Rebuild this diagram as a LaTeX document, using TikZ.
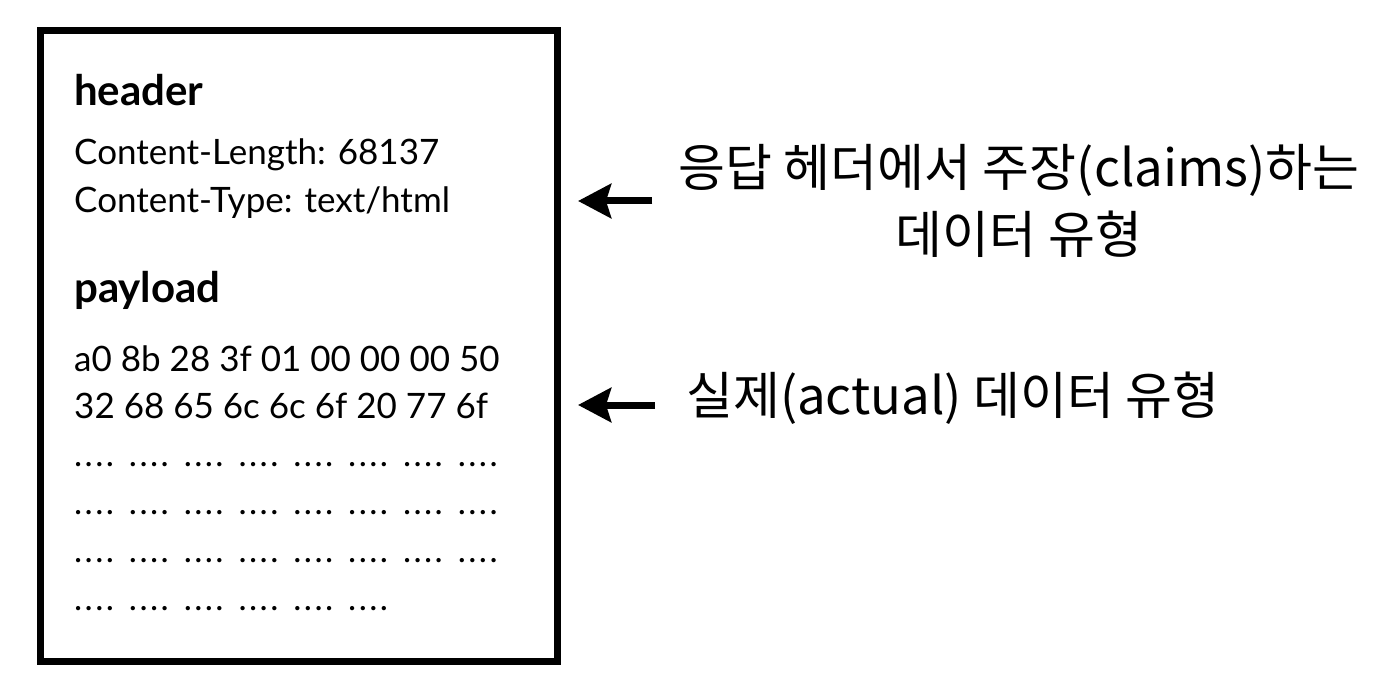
\documentclass[tikz,border=0pt]{standalone}
\usepackage{fontspec}
\setmainfont{Lato}
\newfontfamily\krfont{Noto Sans CJK KR}
\usetikzlibrary{arrows.meta}
\usetikzlibrary{positioning}
\tikzset{
    frame/.style={
           rectangle,
           draw=black, line width=7pt,
           minimum width=517pt,
           minimum height=631pt,
           inner sep=0pt,
           },
    section/.style={
           anchor=base west,
           inner sep=0pt,
           font=\fontsize{42}{48}\selectfont\bfseries,
           },
    field/.style={
           anchor=base west,
           inner sep=0pt,
           font=\fontsize{35}{40}\selectfont,
           },
    filler/.style={
           field,
           font=\fontsize{34.5}{40}\selectfont\addfontfeatures{Ligatures=NoCommon,LetterSpace=7},
           },
    note/.style={
           inner sep=0pt,
           align=center,
           font=\krfont\fontsize{51}{67}\selectfont,
           },
    pointer/.style={
           -{Stealth[length=33pt,width=34pt,inset=5pt]},
           line width=7pt,
           },
}

\begin{document}
\begin{tikzpicture}[x=1pt,y=-1pt]

 \useasboundingbox (0,0) rectangle (1400,684);

 \node[frame] (packet) at (299,346) {};

 \node[section] (header) at (74,106) {header};
 \node[field] (length) at (74,165) {Content-Length: 68137};
 \node[field] (type) at (74,213) {Content-Type: text/html};

 \node[section] (payload) at (74,303) {payload};
 \node[field] (bytesA) at (74,372) {a0 8b 28 3f 01 00 00 00 50};
 \node[field] (bytesB) at (74,418) {32 68 65 6c 6c 6f 20 77 6f};
 \node[filler] (dotsA) at (74,466) {.... .... .... .... .... .... .... ....};
 \node[filler] (dotsB) at (74,514) {.... .... .... .... .... .... .... ....};
 \node[filler] (dotsC) at (74,562) {.... .... .... .... .... .... .... ....};
 \node[filler] (dotsD) at (74,610) {.... .... .... .... .... ....};

 \node[note] (claimed) at (1019,201)
 {응답 헤더에서 주장(claims)하는\\ 데이터 유형};
 \node[note, anchor=west] (actual) at (686,398)
 {실제(actual) 데이터 유형};

 \draw[pointer] ([xshift=-26pt]claimed.west) -- ([xshift=17pt]packet.east |- claimed.west);
 \draw[pointer] ([xshift=-31pt]actual.west |- 0,405) -- ([xshift=17pt]packet.east |- 0,405);

\end{tikzpicture}
\end{document}
